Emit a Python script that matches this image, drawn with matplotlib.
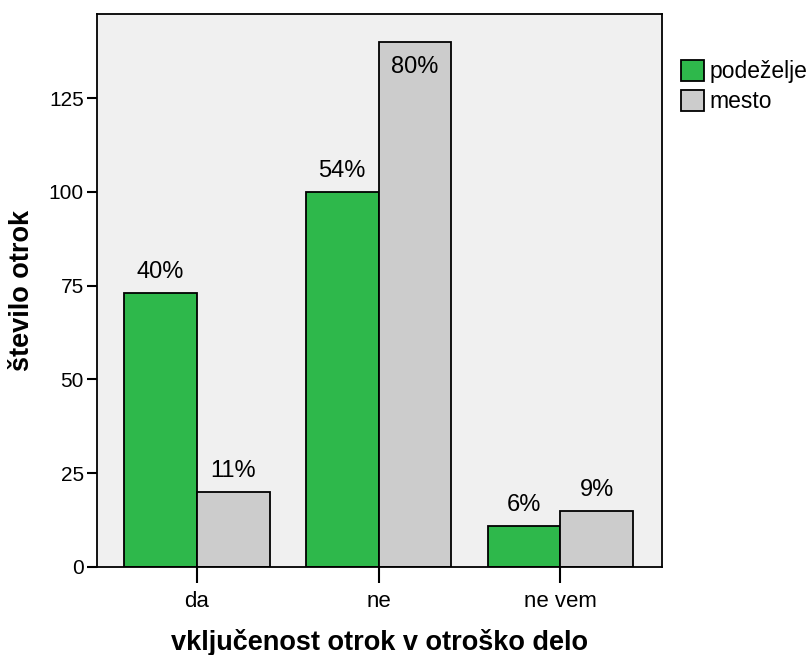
import numpy as np
import matplotlib
matplotlib.use("Agg")
import matplotlib.pyplot as plt
from matplotlib.patches import Patch

plt.rcParams['font.family'] = ['Liberation Sans', 'DejaVu Sans']

kategorije = ['da', 'ne', 'ne vem']
podezelje = [73, 100, 11]
mesto = [20, 140, 15]
podezelje_pct = ['40%', '54%', '6%']
mesto_pct = ['11%', '80%', '9%']
serije = ['podeželje', 'mesto']

zelena = '#2eb84b'
siva = '#cccccc'

fig = plt.figure(figsize=(8.11, 6.55), dpi=100)
ax = fig.add_axes([0.1196, 0.1344, 0.8163 - 0.1196, 0.9786 - 0.1344])
ax.set_facecolor('#f0f0f0')

x = np.arange(len(kategorije))
w = 0.4
b1 = ax.bar(x - w / 2, podezelje, w, color=zelena, edgecolor='black', linewidth=1.3)
b2 = ax.bar(x + w / 2, mesto, w, color=siva, edgecolor='black', linewidth=1.3)

ymax = 147.4
for bars, labels in ((b1, podezelje_pct), (b2, mesto_pct)):
    for r, t in zip(bars, labels):
        h = r.get_height()
        cx = r.get_x() + r.get_width() / 2
        if h > ymax - 10:
            ax.annotate(t, (cx, h), xytext=(0, -10), textcoords='offset points',
                        ha='center', va='top', fontsize=17)
        else:
            ax.annotate(t, (cx, h), xytext=(0, 7), textcoords='offset points',
                        ha='center', va='bottom', fontsize=17)

ax.set_xlim(-0.55, 2.56)
ax.set_ylim(0, ymax)
ax.set_yticks([0, 25, 50, 75, 100, 125])
ax.set_xticks(x)
ax.set_xticklabels(kategorije)
ax.tick_params(axis='y', length=7.5, width=1.5, labelsize=15, pad=2)
ax.tick_params(axis='x', length=11.5, width=1.5, labelsize=16, pad=6)
for s in ax.spines.values():
    s.set_linewidth(1.3)

ax.set_xlabel('vključenost otrok v otroško delo', fontsize=19.5, fontweight='bold', labelpad=12)
ax.set_ylabel('število otrok', fontsize=19.5, fontweight='bold', labelpad=10)

handles = [Patch(facecolor=zelena, edgecolor='black', linewidth=1.3),
           Patch(facecolor=siva, edgecolor='black', linewidth=1.3)]
fig.legend(handles, serije, loc='upper left', bbox_to_anchor=(0.84, 0.908),
           frameon=False, fontsize=16.5, handlelength=1.0, handleheight=1.0,
           handletextpad=0.25, labelspacing=0.3, borderaxespad=0, borderpad=0)

fig.savefig('out.png', dpi=100)
